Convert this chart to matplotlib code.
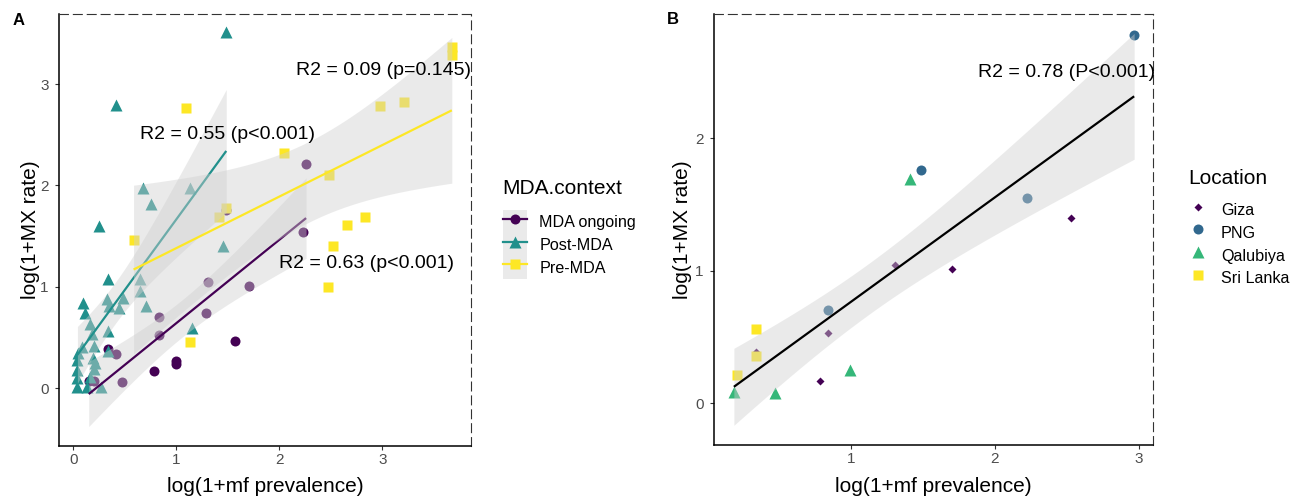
import numpy as np
import matplotlib
matplotlib.use("Agg")
import matplotlib.pyplot as plt
from matplotlib.lines import Line2D
from matplotlib.patches import Patch

plt.rcParams['font.family'] = ['Liberation Sans', 'DejaVu Sans']

# panel A: log(1+mf prevalence) vs log(1+MX rate), by MDA context
ongoing_x = [2.26, 1.48, 2.23, 1.31, 1.71, 0.835, 1.285, 0.835, 0.34, 0.41, 1.57,
             0.995, 0.995, 0.785, 0.475, 0.15, 0.2]
ongoing_y = [2.21, 1.76, 1.545, 1.045, 1.01, 0.705, 0.745, 0.53, 0.39, 0.335, 0.465,
             0.27, 0.24, 0.17, 0.065, 0.075, 0.07]

post_x = [1.485, 0.41, 0.25, 0.675, 1.135, 0.755, 1.455, 0.34, 0.645, 0.645, 0.705,
          0.09, 0.115, 0.33, 0.485, 0.35, 0.445, 0.16, 0.185, 0.34, 0.08, 0.05, 0.2,
          0.34, 0.04, 0.195, 0.21, 0.04, 0.2, 0.04, 0.16, 0.04, 0.135, 0.27, 1.15]
post_y = [3.51, 2.79, 1.60, 1.98, 1.98, 1.82, 1.40, 1.075, 1.08, 0.955, 0.81,
          0.845, 0.745, 0.88, 0.895, 0.81, 0.79, 0.63, 0.54, 0.565, 0.41, 0.345, 0.42,
          0.37, 0.28, 0.295, 0.245, 0.18, 0.195, 0.10, 0.115, 0.01, 0.01, 0.01, 0.595]

pre_x = [3.675, 3.675, 1.095, 2.98, 3.21, 2.045, 2.485, 1.48, 1.41, 0.585, 2.655,
         2.83, 2.525, 2.47, 1.135]
pre_y = [3.37, 3.29, 2.765, 2.78, 2.82, 2.32, 2.10, 1.775, 1.685, 1.46, 1.61,
         1.685, 1.405, 0.995, 0.455]

context_names = ['MDA ongoing', 'Post-MDA', 'Pre-MDA']
context_labels = ['R2 = 0.63 (p<0.001)', 'R2 = 0.55 (p<0.001)', 'R2 = 0.09 (p=0.145)']

# panel B: by location
giza_x = [2.525, 1.705, 1.31, 0.84, 0.34, 0.79]
giza_y = [1.40, 1.015, 1.045, 0.53, 0.385, 0.17]
png_x = [2.965, 1.485, 2.225, 0.84]
png_y = [2.78, 1.76, 1.55, 0.705]
qal_x = [1.41, 0.19, 0.475, 0.995]
qal_y = [1.69, 0.085, 0.075, 0.25]
sri_x = [0.34, 0.34, 0.21]
sri_y = [0.56, 0.355, 0.21]

location_names = ['Giza', 'PNG', 'Qalubiya', 'Sri Lanka']
location_label = 'R2 = 0.78 (P<0.001)'

BAND = '#D0D0D0'
BAND_A = 0.43


def t975(df):
    z = 1.959964
    return (z + (z**3 + z) / (4 * df) + (5 * z**5 + 16 * z**3 + 3 * z) / (96 * df**2)
            + (3 * z**7 + 19 * z**5 + 17 * z**3 - 15 * z) / (384 * df**3))


def smooth(ax, x, y, color, z):
    x = np.asarray(x, float)
    y = np.asarray(y, float)
    b, a = np.polyfit(x, y, 1)
    n = len(x)
    s = np.sqrt(((y - (a + b * x))**2).sum() / (n - 2))
    xs = np.linspace(x.min(), x.max(), 100)
    fit = a + b * xs
    se = s * np.sqrt(1 / n + (xs - x.mean())**2 / ((x - x.mean())**2).sum())
    t = t975(n - 2)
    ax.fill_between(xs, fit - t * se, fit + t * se, color=BAND, alpha=BAND_A, lw=0, zorder=z)
    ax.plot(xs, fit, color=color, lw=1.6, zorder=z + 0.1, solid_capstyle='butt')


def style(ax, ypad):
    for s in ['top', 'right']:
        ax.spines[s].set_linestyle((0, (8, 4.5)))
        ax.spines[s].set_color('#333333')
        ax.spines[s].set_linewidth(0.8)
    for s in ['left', 'bottom']:
        ax.spines[s].set_color('black')
        ax.spines[s].set_linewidth(1.1)
    ax.tick_params(length=2.9, width=0.8, color='#333333', labelcolor='#4D4D4D',
                   labelsize=11)
    ax.tick_params(axis='y', pad=4.3)
    ax.tick_params(axis='x', pad=2.2)
    ax.set_xlabel('log(1+mf prevalence)', fontsize=15, labelpad=7.5)
    ax.set_ylabel('log(1+MX rate)', fontsize=15, labelpad=ypad)


fig = plt.figure(figsize=(12.95, 4.98), dpi=100)
axA = fig.add_axes([0.0453, 0.105, 0.3184, 0.8663])
axB = fig.add_axes([0.5511, 0.1058, 0.3395, 0.8655])

# ---- panel A
colsA = ['#440154', '#21908C', '#FDE725']
marksA = ['o', '^', 's']
sizesA = [7.2, 8.6, 6.7]
groupsA = [(ongoing_x, ongoing_y), (post_x, post_y), (pre_x, pre_y)]
for (gx, gy), c, m, ms in zip(groupsA, colsA, marksA, sizesA):
    axA.plot(gx, gy, ls='none', marker=m, ms=ms, color=c, mec='none', zorder=2)
for i, ((gx, gy), c) in enumerate(zip(groupsA, colsA)):
    smooth(axA, gx, gy, c, 3 + i)

axA.text(2.85, 1.233, context_labels[0], fontsize=14, ha='center', va='center', zorder=10)
axA.text(1.5, 2.50, context_labels[1], fontsize=14, ha='center', va='center', zorder=10)
axA.text(3.86, 3.13, context_labels[2], fontsize=14, ha='right', va='center', zorder=10)

axA.set_xlim(-0.142, 3.861)
axA.set_ylim(-0.566, 3.688)
axA.set_xticks([0, 1, 2, 3])
axA.set_yticks([0, 1, 2, 3])
style(axA, 0)

# ---- panel B
colsB = ['#440154', '#31688E', '#35B779', '#FDE725']
marksB = ['D', 'o', '^', 's']
sizesB = [4.3, 7.2, 8.8, 7.0]
groupsB = [(giza_x, giza_y), (png_x, png_y), (qal_x, qal_y), (sri_x, sri_y)]
for (gx, gy), c, m, ms in zip(groupsB, colsB, marksB, sizesB):
    axB.plot(gx, gy, ls='none', marker=m, ms=ms, color=c, mec='none', zorder=2)
allx = sum([list(g[0]) for g in groupsB], [])
ally = sum([list(g[1]) for g in groupsB], [])
smooth(axB, allx, ally, 'black', 3)
axB.text(3.11, 2.495, location_label, fontsize=14, ha='right', va='center', zorder=10,
         clip_on=False)

axB.set_xlim(0.05, 3.098)
axB.set_ylim(-0.317, 2.936)
axB.set_xticks([1, 2, 3])
axB.set_yticks([0, 1, 2])
style(axB, 2)

# panel tags
fig.text(18.3 / 1295, 1 - 20 / 498, 'A', fontsize=12, fontweight='bold', ha='center', va='center')
fig.text(673.3 / 1295, 1 - 19 / 498, 'B', fontsize=12, fontweight='bold', ha='center', va='center')

# legend A
handlesA = [(Patch(facecolor=BAND, alpha=BAND_A, edgecolor='none'),
             Line2D([], [], color=c, marker=m, ms=ms, mec='none', lw=1.6))
            for c, m, ms in zip(colsA, marksA, sizesA)]
fig.text(502.7 / 1295, 1 - 188 / 498, 'MDA.context', fontsize=15, ha='left', va='center')
fig.legend(handlesA, context_names, loc='upper left', bbox_to_anchor=(502.7 / 1295, 1 - 210.5 / 498),
           frameon=False, fontsize=11.6, handlelength=1.49, handleheight=1.8,
           labelspacing=0, handletextpad=0.78, borderpad=0, borderaxespad=0)

# legend B
handlesB = [Line2D([], [], ls='none', color=c, marker=m, ms=ms, mec='none')
            for c, m, ms in zip(colsB, marksB, sizesB)]
fig.text(1188 / 1295, 1 - 178.3 / 498, 'Location', fontsize=15, ha='left', va='center')
fig.legend(handlesB, location_names, loc='upper left', bbox_to_anchor=(1186.3 / 1295, 1 - 198.4 / 498),
           frameon=False, fontsize=11.6, handlelength=1.49, handleheight=1.80,
           labelspacing=0, handletextpad=0.65, borderpad=0, borderaxespad=0)

fig.savefig('out.png', dpi=100)
